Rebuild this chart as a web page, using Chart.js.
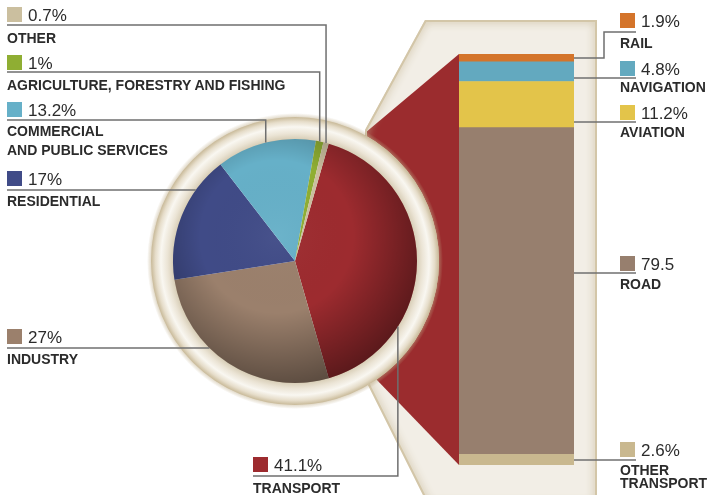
<!DOCTYPE html>
<html>
<head>
<meta charset="utf-8">
<script src="https://cdn.jsdelivr.net/npm/chart.js@4.4.1/dist/chart.umd.min.js"></script>
<style>
  body { margin: 0; background: #fff; }
  #wrap { position: relative; width: 712px; height: 495px; overflow: hidden;
          font-family: "Liberation Sans", Arial, sans-serif; color: #2b2b2b; }
  canvas { position: absolute; left: 0; top: 0; }
  #pie { z-index: 1; }
  #bar { z-index: 2; }
  #labels { position: absolute; left: 0; top: 0; width: 712px; height: 495px; z-index: 3; }
  .sq { position: absolute; width: 15px; height: 15px; }
  .num { position: absolute; font-size: 17px; line-height: 17px; white-space: nowrap; }
  .name { position: absolute; font-size: 14px; line-height: 14px; font-weight: bold; white-space: nowrap; }
</style>
</head>
<body>
<div id="wrap">
  <canvas id="pie" width="712" height="495"></canvas>
  <canvas id="bar" width="712" height="495"></canvas>
  <div id="labels"></div>
</div>
<script>
// final energy use by sector, share of total (%)
const sectors = ["TRANSPORT", "INDUSTRY", "RESIDENTIAL", "COMMERCIAL\nAND PUBLIC SERVICES",
  "AGRICULTURE, FORESTRY AND FISHING", "OTHER"];
const sectorShares = [41.1, 27, 17, 13.2, 1, 0.7];
const sectorColors = ["#9d2b2f", "#9b806c", "#404b87", "#66b0c8", "#8fae33", "#cbbf9f"];

// transport split, listed bottom to top of the bar (%)
const modes = ["OTHER\nTRANSPORT", "ROAD", "AVIATION", "NAVIGATION", "RAIL"];
const modeShares = [2.6, 79.5, 11.2, 4.8, 1.9];
const modeUnits = ["%", "", "%", "%", "%"];
const modeColors = ["#c9b88f", "#977f6e", "#e3c44a", "#63a9bf", "#d4742a"];

// label placement (swatch top, leader y, name baselines)
const sectorLayout = [
  { x: 253, top: 457, line: 476, names: [493], at: 0.72 },
  { x: 7, top: 329, line: 348, names: [364] },
  { x: 7, top: 171, line: 190, names: [206] },
  { x: 7, top: 102, line: 120, names: [136, 155], at: 0.5 },
  { x: 7, top: 55, line: 72, names: [90], at: 0.5 },
  { x: 7, top: 7, line: 25, names: [43], at: 0.5 },
];
const modeLayout = [
  { top: 442, line: 460, names: [475, 488] },
  { top: 256, line: 273, names: [289] },
  { top: 105, line: 122, names: [137] },
  { top: 61, line: 78, names: [92] },
  { top: 13, line: 32, names: [48] },
];
const MODE_X = 620;
const LEADER = "#6f6f6f";

const modeLeaders = {
  id: "modeLeaders",
  afterDatasetsDraw(chart) {
    const ctx = chart.ctx;
    ctx.save();
    ctx.strokeStyle = LEADER;
    ctx.lineWidth = 1.5;
    modeLayout.forEach((p, i) => {
      const el = chart.getDatasetMeta(i).data[0];
      const { x, y, base, width } = el.getProps(["x", "y", "base", "width"], true);
      const right = x + width / 2;
      const top = Math.min(y, base), bottom = Math.max(y, base);
      ctx.beginPath();
      if (p.line > top + 1 && p.line < bottom - 1) {
        ctx.moveTo(right, p.line);
      } else {
        const mid = (top + bottom) / 2;
        ctx.moveTo(right, mid);
        ctx.lineTo(right + 30, mid);
        ctx.lineTo(right + 30, p.line);
      }
      ctx.lineTo(MODE_X + 16, p.line);
      ctx.stroke();
    });
    ctx.restore();
  }
};

const barChart = new Chart(document.getElementById("bar"), {
  type: "bar",
  data: {
    labels: ["TRANSPORT"],
    datasets: modes.map((m, i) => ({
      label: m,
      data: [modeShares[i]],
      backgroundColor: modeColors[i],
      borderWidth: 0,
      barPercentage: 1,
      categoryPercentage: 1
    }))
  },
  options: {
    responsive: false,
    animation: false,
    layout: { padding: { left: 459, right: 138, top: 54, bottom: 30 } },
    scales: {
      x: { stacked: true, display: false },
      y: { stacked: true, display: false, min: 0, max: 100 }
    },
    plugins: { legend: { display: false }, tooltip: { enabled: false } }
  },
  plugins: [modeLeaders]
});

const RING = 22;

// cream panel behind the bar, with the red wedge joining it to the pie
const panel = {
  id: "panel",
  beforeDraw(chart) {
    const arc = chart.getDatasetMeta(0).data[0];
    const cx = arc.x, cy = arc.y, R = arc.outerRadius;
    const a = barChart.chartArea;
    const ctx = chart.ctx;
    const H = chart.height;
    const cut = R + RING;

    const outline = new Path2D();
    outline.moveTo(a.left - 34, a.top - 34);
    outline.lineTo(a.right + 23, a.top - 34);
    outline.lineTo(a.right + 23, H + 10);
    outline.lineTo(a.left - 31, H + 10);
    outline.lineTo(cx + 73, cy + 124);
    outline.lineTo(cx + 70, cy - 131);
    outline.closePath();

    ctx.save();
    ctx.clip(outline);
    ctx.beginPath();
    ctx.rect(0, 0, chart.width, H);
    ctx.arc(cx, cy, cut, 0, Math.PI * 2);
    ctx.clip("evenodd");

    ctx.fillStyle = "#f2eee6";
    ctx.fillRect(0, 0, chart.width, H);

    ctx.fillStyle = "#9b2c2e";
    ctx.beginPath();
    ctx.moveTo(a.left, a.top);
    ctx.lineTo(a.left, a.bottom);
    ctx.lineTo(cx + 80, cy + 117);
    ctx.lineTo(cx + 60, cy + 40);
    ctx.lineTo(cx + 60, cy - 40);
    ctx.lineTo(cx + 70, cy - 128);
    ctx.closePath();
    ctx.fill();

    ctx.shadowColor = "rgba(196,180,145,0.95)";
    ctx.shadowBlur = 9;
    ctx.strokeStyle = "#d3c6a8";
    ctx.lineWidth = 4;
    ctx.stroke(outline);
    ctx.restore();
  }
};

const pieDeco = {
  id: "pieDeco",
  beforeDatasetsDraw(chart) {
    const arc = chart.getDatasetMeta(0).data[0];
    const cx = arc.x, cy = arc.y, R = arc.outerRadius;
    const ctx = chart.ctx;
    ctx.save();
    // soft outer edge
    const o = ctx.createRadialGradient(cx, cy, R + RING - 1, cx, cy, R + RING + 4);
    o.addColorStop(0, "rgba(190,172,135,0.55)");
    o.addColorStop(1, "rgba(190,172,135,0)");
    ctx.fillStyle = o;
    ctx.beginPath();
    ctx.arc(cx, cy, R + RING + 4, 0, Math.PI * 2);
    ctx.arc(cx, cy, R + RING - 1, 0, Math.PI * 2, true);
    ctx.fill();
    // ring
    const g = ctx.createRadialGradient(cx, cy, R, cx, cy, R + RING);
    g.addColorStop(0, "#d8ceb7");
    g.addColorStop(0.25, "#ebe4d5");
    g.addColorStop(0.55, "#f9f7f1");
    g.addColorStop(0.8, "#e6ddca");
    g.addColorStop(1, "#c8b998");
    ctx.fillStyle = g;
    ctx.beginPath();
    ctx.arc(cx, cy, R + RING, 0, Math.PI * 2);
    ctx.arc(cx, cy, R - 1, 0, Math.PI * 2, true);
    ctx.fill();
    ctx.restore();
  },
  afterDatasetsDraw(chart) {
    const meta = chart.getDatasetMeta(0);
    const arc = meta.data[0];
    const cx = arc.x, cy = arc.y, R = arc.outerRadius;
    const ctx = chart.ctx;

    // soft shading over the pie
    ctx.save();
    ctx.beginPath();
    ctx.arc(cx, cy, R, 0, Math.PI * 2);
    ctx.clip();
    const sh = ctx.createRadialGradient(cx - 0.15 * R, cy - 0.2 * R, 0, cx - 0.15 * R, cy - 0.2 * R, 1.25 * R);
    sh.addColorStop(0, "rgba(255,255,255,0.04)");
    sh.addColorStop(0.5, "rgba(0,0,0,0)");
    sh.addColorStop(1, "rgba(0,0,0,0.42)");
    ctx.fillStyle = sh;
    ctx.fillRect(cx - R, cy - R, 2 * R, 2 * R);
    ctx.restore();

    // leader lines
    ctx.save();
    ctx.strokeStyle = LEADER;
    ctx.lineWidth = 1.5;
    sectorLayout.forEach((p, i) => {
      const el = meta.data[i];
      ctx.beginPath();
      ctx.moveTo(p.x, p.line);
      if (p.at != null) {
        const ang = el.startAngle + (el.endAngle - el.startAngle) * p.at;
        const ex = cx + R * Math.cos(ang), ey = cy + R * Math.sin(ang);
        ctx.lineTo(ex, p.line);
        ctx.lineTo(ex, ey);
      } else {
        const dy = p.line - cy;
        ctx.lineTo(cx - Math.sqrt(R * R - dy * dy), p.line);
      }
      ctx.stroke();
    });
    ctx.restore();
  }
};

new Chart(document.getElementById("pie"), {
  type: "pie",
  data: {
    labels: sectors,
    datasets: [{ data: sectorShares, backgroundColor: sectorColors, borderWidth: 0 }]
  },
  options: {
    responsive: false,
    animation: false,
    rotation: 16,
    layout: { padding: { left: 173, right: 295, top: 139, bottom: 112 } },
    plugins: { legend: { display: false }, tooltip: { enabled: false } }
  },
  plugins: [panel, pieDeco]
});

// text labels
const box = document.getElementById("labels");
function addLabel(x, top, color, valueText, name, bases) {
  const sq = document.createElement("div");
  sq.className = "sq";
  sq.style.left = x + "px";
  sq.style.top = top + "px";
  sq.style.background = color;
  box.appendChild(sq);

  const num = document.createElement("div");
  num.className = "num";
  num.textContent = valueText;
  num.style.left = (x + 21) + "px";
  num.style.top = (top + 14.5 - 0.8465 * 17) + "px";
  box.appendChild(num);

  name.split("\n").forEach((line, j) => {
    const t = document.createElement("div");
    t.className = "name";
    t.textContent = line;
    t.style.left = x + "px";
    t.style.top = (bases[j] - 0.8465 * 14) + "px";
    box.appendChild(t);
  });
}
sectors.forEach((s, i) => {
  const p = sectorLayout[i];
  addLabel(p.x, p.top, sectorColors[i], sectorShares[i] + "%", s, p.names);
});
modes.forEach((m, i) => {
  const p = modeLayout[i];
  addLabel(MODE_X, p.top, modeColors[i], modeShares[i] + modeUnits[i], m, p.names);
});
</script>
</body>
</html>
